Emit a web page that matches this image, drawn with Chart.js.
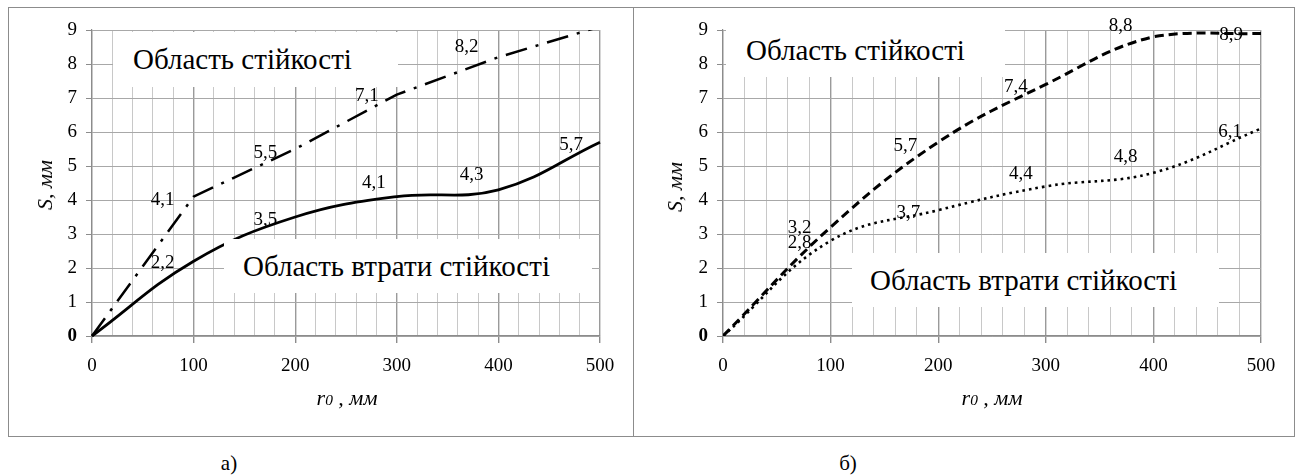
<!DOCTYPE html>
<html><head><meta charset="utf-8">
<script src="https://cdn.jsdelivr.net/npm/chart.js@4.4.0/dist/chart.umd.min.js"></script>
<style>
body{margin:0;background:#fff;}
#page{position:relative;width:1304px;height:476px;overflow:hidden;font-family:"Liberation Serif","Times New Roman",serif;color:#000;background:#fff}
.frame{position:absolute;border:1px solid #8c8c8c;box-sizing:border-box}
canvas{position:absolute}
.box{position:absolute;background:#fff;font-size:29px;line-height:1;display:flex;align-items:center;white-space:nowrap;box-sizing:border-box}
.ttl{position:absolute;font-style:italic;font-size:22px;white-space:nowrap;line-height:1}
.ttl sub{font-size:70%;vertical-align:baseline}
.vt{transform:translate(-50%,-50%) rotate(-90deg)}
.ht{transform:translate(-50%,-50%)}
.cap{position:absolute;font-size:21px;line-height:1;transform:translate(-50%,-50%)}
</style></head>
<body>
<div id="page">
  <div class="frame" style="left:8px;top:7px;width:626px;height:430px"></div>
  <div class="frame" style="left:633px;top:7px;width:662px;height:430px"></div>
  <canvas id="c1" width="625" height="429" style="left:8px;top:7px"></canvas>
  <canvas id="c2" width="661" height="429" style="left:633px;top:7px"></canvas>

  <div class="box" style="left:113px;top:32px;width:285px;height:55px;padding-left:20px">Область стійкості</div>
  <div class="box" style="left:224px;top:239px;width:368px;height:54px;padding-left:19px">Область втрати стійкості</div>
  <div class="box" style="left:726px;top:24px;width:279px;height:53px;padding-left:20px">Область стійкості</div>
  <div class="box" style="left:852px;top:253px;width:367px;height:54px;padding-left:18px">Область втрати стійкості</div>

  <div class="ttl vt" style="left:45px;top:185px">S, мм</div>
  <div class="ttl vt" style="left:675px;top:187px">S, мм</div>
  <div class="ttl ht" style="left:347px;top:398px">r<sub>0</sub> , мм</div>
  <div class="ttl ht" style="left:992px;top:398px">r<sub>0</sub> , мм</div>

  <div class="cap" style="left:229px;top:463px">а)</div>
  <div class="cap" style="left:848px;top:463px">б)</div>
</div>
<script>
// ---- data ----
const xValues = [0, 100, 200, 300, 400, 500];          // r0, мм
const leftStability = [0, 4.1, 5.5, 7.1, 8.2, 9.1];    // а) dash-dot
const leftLoss      = [0, 2.2, 3.5, 4.1, 4.3, 5.7];    // а) solid
const rightUpper    = [0, 3.2, 5.7, 7.4, 8.8, 8.9];    // б) dashed
const rightLower    = [0, 2.8, 3.7, 4.4, 4.8, 6.1];    // б) dotted
const xTickLabels = [0, 100, 200, 300, 400, 500];
const yTickLabels = [0, 1, 2, 3, 4, 5, 6, 7, 8, 9];

// ---- label placement (style only): index -> [dx, dy] ----
const offLeftStab = {1:[-19,3], 2:[-18,4], 3:[-18,1], 4:[-20,-10]};
const offLeftLoss = {1:[-19,2], 2:[-18,3], 3:[-11,-14], 4:[-15,-15], 5:[-17,3]};
const offRightUp  = {1:[-19,1], 2:[-21,4], 3:[-18,3], 4:[-21,-11], 5:[-18,2]};
const offRightLow = {1:[-19,2], 2:[-18,3], 3:[-13,-12], 4:[-16,-16], 5:[-19,3]};

const FONT = '"Liberation Serif","Times New Roman",serif';
const pts = ys => xValues.map((x, i) => ({x, y: ys[i]}));

const labelPlugin = {
  id: 'valueLabels',
  afterDatasetsDraw(chart) {
    const ctx = chart.ctx;
    ctx.save();
    ctx.font = '19px ' + FONT;
    ctx.fillStyle = '#000';
    ctx.textAlign = 'right';
    ctx.textBaseline = 'middle';
    chart.data.datasets.forEach((ds, di) => {
      const meta = chart.getDatasetMeta(di);
      const offs = ds.labelOffsets || {};
      Object.keys(offs).forEach(k => {
        const el = meta.data[+k];
        if (!el) return;
        const [dx, dy] = offs[k];
        const txt = String(ds.data[+k].y).replace('.', ',');
        ctx.fillText(txt, el.x + dx, el.y + dy);
      });
    });
    ctx.restore();
  }
};

function makeOptions() {
  return {
    responsive: false,
    animation: false,
    devicePixelRatio: 1,
    layout: {padding: {left: 0, top: 23, right: 33, bottom: 0}},
    plugins: {legend: {display: false}, tooltip: {enabled: false}},
    elements: {point: {radius: 0}, line: {borderCapStyle: 'butt', borderJoinStyle: 'round'}},
    scales: {
      x: {
        type: 'linear', min: 0, max: 500,
        afterFit(s) { s.height = 100; },
        ticks: {
          stepSize: 20, autoSkip: false, maxRotation: 0, padding: 12,
          color: '#000', font: {family: FONT, size: 19},
          callback: v => xTickLabels.includes(v) ? String(v) : ''
        },
        grid: {
          color: c => (c.tick && c.tick.value % 100 === 0) ? '#9a9a9a' : '#c8c8c8',
          lineWidth: c => (c.tick && c.tick.value % 100 === 0) ? 1.4 : 1,
          tickLength: 7,
          tickColor: c => (c.tick && c.tick.value % 100 === 0) ? '#8c8c8c' : 'rgba(0,0,0,0)'
        },
        border: {color: '#8c8c8c', width: 1.2}
      },
      y: {
        type: 'linear', min: 0, max: 9,
        afterFit(s) { s.width = s.chart.canvas.id === 'c1' ? 84 : 90; },
        ticks: {
          stepSize: 1, padding: 9, color: '#000',
          font: c => ({family: FONT, size: 19, weight: (c.tick && c.tick.value === 0) ? 'bold' : 'normal'}),
          callback: v => yTickLabels.includes(v) ? String(v) : ''
        },
        grid: {color: '#a8a8a8', lineWidth: 1, tickLength: 6, tickColor: '#8c8c8c'},
        border: {color: '#8c8c8c', width: 1.2}
      }
    }
  };
}

new Chart(document.getElementById('c1'), {
  type: 'line',
  data: {datasets: [
    {data: pts(leftLoss), borderColor: '#000', borderWidth: 2.8, tension: 0.4, fill: false,
     labelOffsets: offLeftLoss, clip: {left: 5, right: 5, top: 0, bottom: 5}},
    {data: pts(leftStability), borderColor: '#000', borderWidth: 2.5, tension: 0, fill: false,
     borderDash: [22, 9, 3, 9], labelOffsets: offLeftStab, clip: {left: 5, right: 5, top: 0, bottom: 5}}
  ]},
  options: makeOptions(),
  plugins: [labelPlugin]
});

new Chart(document.getElementById('c2'), {
  type: 'line',
  data: {datasets: [
    {data: pts(rightUpper), borderColor: '#000', borderWidth: 3, tension: 0.4, fill: false,
     borderDash: [9, 5], labelOffsets: offRightUp},
    {data: pts(rightLower), borderColor: '#000', borderWidth: 2.6, tension: 0.4, fill: false,
     borderDash: [2.6, 4], labelOffsets: offRightLow}
  ]},
  options: makeOptions(),
  plugins: [labelPlugin]
});
</script>
</body></html>
